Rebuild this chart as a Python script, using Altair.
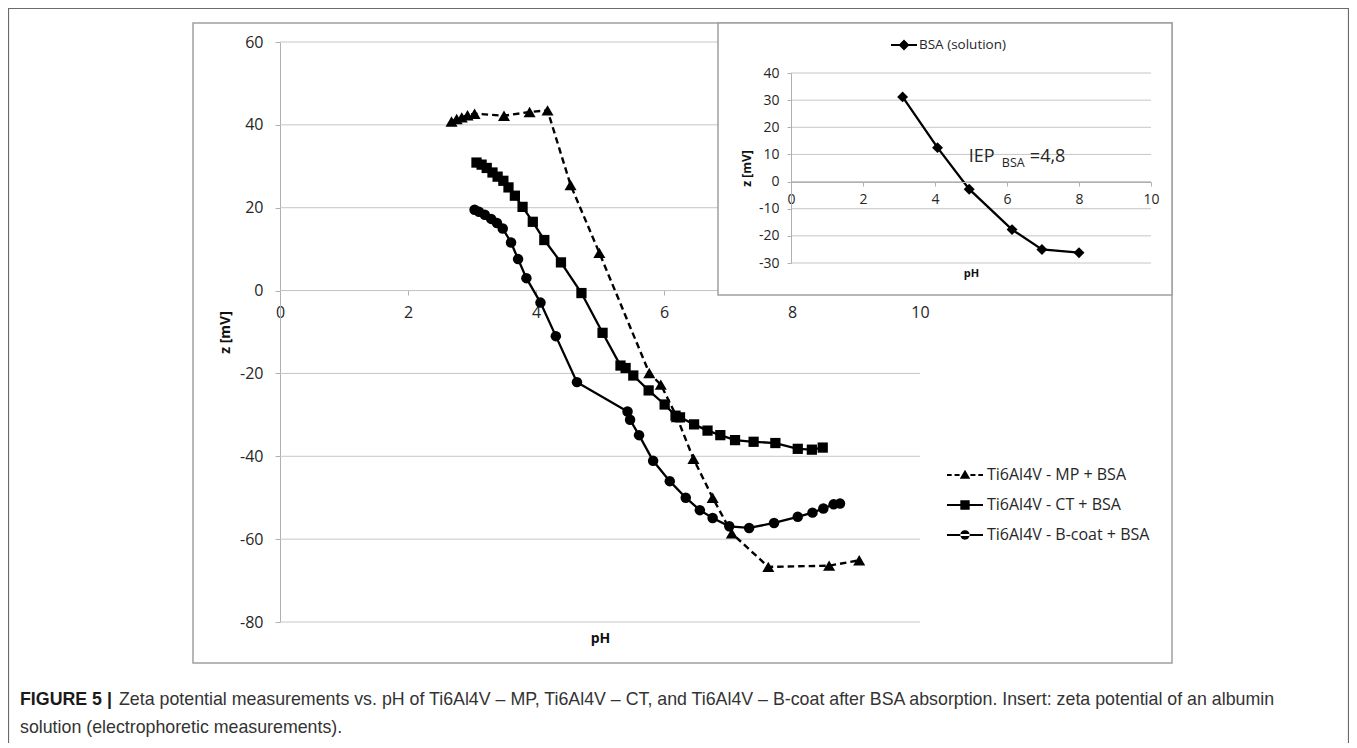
import altair as alt
import pandas as pd

# ---------------- data ----------------
SERIES = ["Ti6Al4V - MP + BSA", "Ti6Al4V - CT + BSA", "Ti6Al4V - B-coat + BSA"]

mp_ph = [2.68, 2.76, 2.84, 2.93, 3.04, 3.50, 3.90, 4.18, 4.54, 4.99,
         5.77, 5.95, 6.20, 6.46, 6.76, 7.06, 7.63, 8.58, 9.05]
mp_z = [40.8, 41.4, 41.8, 42.3, 42.7, 42.2, 43.1, 43.5, 25.5, 9.1,
        -19.9, -22.7, -30.5, -40.6, -50.0, -58.6, -66.7, -66.4, -65.1]

ct_ph = [3.07, 3.15, 3.23, 3.32, 3.40, 3.49, 3.57, 3.67, 3.79, 3.95,
         4.13, 4.39, 4.71, 5.04, 5.32, 5.40, 5.52, 5.76, 6.01, 6.18,
         6.25, 6.47, 6.68, 6.88, 7.11, 7.40, 7.74, 8.09, 8.31, 8.48]
ct_z = [30.9, 30.4, 29.6, 28.5, 27.5, 26.5, 24.9, 22.9, 20.2, 16.6,
        12.2, 6.8, -0.6, -10.2, -18.1, -18.7, -20.5, -24.1, -27.5, -30.2,
        -30.6, -32.3, -33.8, -34.9, -36.1, -36.5, -36.8, -38.2, -38.4, -37.9]

bc_ph = [3.04, 3.11, 3.20, 3.30, 3.39, 3.48, 3.61, 3.72, 3.85, 4.07,
         4.31, 4.64, 5.43, 5.47, 5.61, 5.83, 6.09, 6.34, 6.56, 6.76,
         7.02, 7.33, 7.72, 8.09, 8.32, 8.49, 8.65, 8.75]
bc_z = [19.5, 19.0, 18.3, 17.3, 16.3, 15.0, 11.6, 7.6, 3.0, -2.9,
        -11.0, -22.1, -29.2, -31.2, -34.9, -41.1, -46.0, -50.0, -53.0, -54.9,
        -56.9, -57.3, -56.1, -54.6, -53.6, -52.6, -51.6, -51.4]

INSET_SERIES = ["BSA (solution)"]
bsa_ph = [3.10, 4.07, 4.95, 6.14, 6.97, 8.00]
bsa_z = [31.2, 12.5, -2.8, -17.7, -25.0, -26.2]

main_x_ticks = [0, 2, 4, 6, 8, 10]
main_y_ticks = [-80, -60, -40, -20, 0, 20, 40, 60]
inset_x_ticks = [0, 2, 4, 6, 8, 10]
inset_y_ticks = [-30, -20, -10, 0, 10, 20, 30, 40]

iep_anchor_ph = [4.94]
iep_anchor_z = [9.2]

caption_bold = "FIGURE 5 |"
caption_line1 = ("Zeta potential measurements vs. pH of Ti6Al4V \u2013 MP, Ti6Al4V \u2013 CT, "
                 "and Ti6Al4V \u2013 B-coat after BSA absorption. Insert: zeta potential of an albumin")
caption_line2 = "solution (electrophoretic measurements)."

# ---------------- layout / style ----------------
W, H = 1341, 735
FONT = "Open Sans"
CAP_FONT = "Liberation Sans"
GRID = "#c6c6c6"
AXC = "#b0b0b0"
FRAME = "#a0a0a0"
TXT = "#262626"
LBL = "'' + datum.value"

MX = alt.Scale(domain=[0, 10], range=[272, 912], nice=False, zero=False)
MY = alt.Scale(domain=[-80, 60], range=[614, 34], nice=False, zero=False)
IX = alt.Scale(domain=[0, 10], range=[783, 1143], nice=False, zero=False)
IY = alt.Scale(domain=[-30, 40], range=[255, 65], nice=False, zero=False)

mx_axis = alt.Axis(orient="bottom", offset=282 - H, values=main_x_ticks, grid=False,
                   tickSize=5, tickColor=AXC, domainColor=AXC, domainWidth=1,
                   labelFont=FONT, labelFontSize=16, labelColor=TXT, labelPadding=9,
                   labelFlush=False, labelOverlap=False, labelExpr=LBL,
                   title="pH", titleFont=FONT, titleFontSize=14, titleFontWeight="bold",
                   titleColor="#111111", titleY=348, titleBaseline="middle")
my_axis = alt.Axis(orient="left", offset=-272, values=main_y_ticks, grid=False,
                   tickSize=5, tickColor=AXC, domainColor=AXC, domainWidth=1,
                   labelFont=FONT, labelFontSize=16, labelColor=TXT, labelPadding=12,
                   labelFlush=False, labelOverlap=False, labelExpr=LBL,
                   title="z [mV]", titleFont=FONT, titleFontSize=14, titleFontWeight="bold",
                   titleColor="#111111", titleX=-55, titleBaseline="middle")
ix_axis = alt.Axis(orient="bottom", offset=174 - H, values=inset_x_ticks, grid=False,
                   tickSize=4, tickColor=AXC, domainColor=AXC, domainWidth=1,
                   labelFont=FONT, labelFontSize=14, labelColor=TXT, labelPadding=6,
                   labelFlush=False, labelOverlap=False, labelExpr=LBL, zindex=1,
                   title="pH", titleFont=FONT, titleFontSize=11, titleFontWeight="bold",
                   titleColor="#111111", titleY=91, titleBaseline="middle")
iy_axis = alt.Axis(orient="left", offset=-783, values=inset_y_ticks, grid=False,
                   tickSize=4, tickColor=AXC, domainColor=AXC, domainWidth=1,
                   labelFont=FONT, labelFontSize=14, labelColor=TXT, labelPadding=8,
                   labelFlush=False, labelOverlap=False, labelExpr=LBL, zindex=1,
                   title="z [mV]", titleFont=FONT, titleFontSize=12, titleFontWeight="bold",
                   titleColor="#111111", titleX=-45, titleBaseline="middle")

# legend symbols: line + marker as filled unit-square paths
LEG_PATHS = [
    "M-1,-0.06H-0.74V0.06H-1ZM-0.58,-0.06H-0.3V0.06H-0.58ZM0.3,-0.06H0.58V0.06H0.3Z"
    "M0.74,-0.06H1V0.06H0.74ZM-0.29,0.21L0,-0.29L0.29,0.21Z",
    "M-1,-0.06H1V0.06H-1ZM-0.26,-0.26H0.26V0.26H-0.26Z",
    "M-1,-0.06H1V0.06H-1ZM-0.26,0A0.26,0.26,0,1,0,0.26,0A0.26,0.26,0,1,0,-0.26,0Z",
]
INSET_LEG_PATHS = ["M-1,-0.08H1V0.08H-1ZM0,-0.42L0.42,0L0,0.42L-0.42,0Z"]

df = pd.DataFrame({
    "series": [SERIES[0]] * len(mp_ph) + [SERIES[1]] * len(ct_ph) + [SERIES[2]] * len(bc_ph),
    "ph": mp_ph + ct_ph + bc_ph,
    "z": mp_z + ct_z + bc_z,
})
inset_df = pd.DataFrame({"series": INSET_SERIES * len(bsa_ph), "ph": bsa_ph, "z": bsa_z})
one = pd.DataFrame({"a": [0]})

xm = alt.X("ph:Q", scale=MX, axis=mx_axis)
ym = alt.Y("z:Q", scale=MY, axis=my_axis)
xi = alt.X("ph:Q", scale=IX, axis=ix_axis)
yi = alt.Y("z:Q", scale=IY, axis=iy_axis)

# ---------------- main chart ----------------
page_frame = alt.Chart(one).mark_rect(fill="white", fillOpacity=0, stroke="#6a6a6a", strokeWidth=1.2).encode(
    x=alt.value(0.5), x2=alt.value(W - 0.5), y=alt.value(0.5), y2=alt.value(H + 40))
chart_frame = alt.Chart(one).mark_rect(fill="white", fillOpacity=0, stroke=FRAME, strokeWidth=1.5).encode(
    x=alt.value(185), x2=alt.value(1164), y=alt.value(15), y2=alt.value(655))

main_grid = alt.Chart(pd.DataFrame({"z": main_y_ticks})).mark_rule(color=GRID, strokeWidth=1).encode(
    x=alt.X(datum=0, scale=MX, axis=mx_axis), x2=alt.X2(datum=10), y=ym)

base = alt.Chart(df)
line_mp = base.transform_filter(alt.datum.series == SERIES[0]).mark_line(
    color="black", strokeWidth=2.4, strokeDash=[6.5, 4]).encode(x=xm, y=ym)
line_solid = base.transform_filter(alt.datum.series != SERIES[0]).mark_line(
    color="black", strokeWidth=2.3).encode(x=xm, y=ym, detail="series:N")

point_layers = []
for s, shp, sz in zip(SERIES, ["triangle-up", "square", "circle"], [145, 105, 110]):
    point_layers.append(
        base.transform_filter(alt.datum.series == s).mark_point(
            shape=shp, size=sz, filled=True, color="black", opacity=1).encode(x=xm, y=ym))

main_legend = base.mark_point(filled=True, color="black", opacity=0, size=1).encode(
    x=xm, y=ym,
    shape=alt.Shape("series:N", scale=alt.Scale(domain=SERIES, range=LEG_PATHS),
                    legend=alt.Legend(title=None, orient="none", legendX=939, legendY=452,
                                      symbolSize=1296, symbolStrokeWidth=0, symbolOpacity=1,
                                      symbolFillColor="black",
                                      labelFont=FONT, labelFontSize=16, labelColor=TXT,
                                      labelOffset=4, rowPadding=0, clipHeight=30,
                                      padding=0, labelLimit=400)))

cap_bold = alt.Chart(pd.DataFrame({"t": [caption_bold]})).mark_text(
    align="left", baseline="middle", font=CAP_FONT, fontSize=17.8, fontWeight="bold", color="#1a1a1a"
).encode(x=alt.value(12), y=alt.value(692), text="t:N")
cap_l1 = alt.Chart(pd.DataFrame({"t": [caption_line1]})).mark_text(
    align="left", baseline="middle", font=CAP_FONT, fontSize=17.8, color="#333333"
).encode(x=alt.value(111), y=alt.value(692), text="t:N")
cap_l2 = alt.Chart(pd.DataFrame({"t": [caption_line2]})).mark_text(
    align="left", baseline="middle", font=CAP_FONT, fontSize=17.8, color="#333333"
).encode(x=alt.value(12), y=alt.value(720), text="t:N")

main_layer = alt.layer(page_frame, chart_frame, main_grid, line_mp, line_solid,
                       *point_layers, main_legend, cap_bold, cap_l1, cap_l2)

# ---------------- inset ----------------
inset_box = alt.Chart(one).mark_rect(fill="white", stroke=FRAME, strokeWidth=1.5).encode(
    x=alt.value(710), x2=alt.value(1164), y=alt.value(15), y2=alt.value(287))
inset_grid = alt.Chart(pd.DataFrame({"z": inset_y_ticks})).mark_rule(color=GRID, strokeWidth=1).encode(
    x=alt.X(datum=0, scale=IX, axis=ix_axis), x2=alt.X2(datum=10), y=yi)
ibase = alt.Chart(inset_df)
inset_line = ibase.mark_line(color="black", strokeWidth=2.3).encode(x=xi, y=yi)
inset_pts = ibase.mark_point(shape="diamond", size=120, filled=True, color="black", opacity=1).encode(x=xi, y=yi)
inset_legend = ibase.mark_point(filled=True, color="black", opacity=0, size=1).encode(
    x=xi, y=yi,
    shape=alt.Shape("series:N", scale=alt.Scale(domain=INSET_SERIES, range=INSET_LEG_PATHS),
                    legend=alt.Legend(title=None, orient="none", legendX=883, legendY=27,
                                      symbolSize=676, symbolStrokeWidth=0, symbolOpacity=1,
                                      symbolFillColor="black",
                                      labelFont=FONT, labelFontSize=13.5, labelColor=TXT,
                                      labelOffset=2, rowPadding=0, clipHeight=20,
                                      padding=0, labelLimit=300)))

iep_df = pd.DataFrame({"ph": iep_anchor_ph, "z": iep_anchor_z, "a": ["IEP"], "b": ["BSA"], "c": ["=4,8"]})
iep_base = alt.Chart(iep_df)
iep_a = iep_base.mark_text(align="left", baseline="middle", font=FONT, fontSize=18, color=TXT).encode(
    x=xi, y=yi, text="a:N")
iep_b = iep_base.mark_text(align="left", baseline="middle", font=FONT, fontSize=12.5, color=TXT,
                           dx=33, dy=6).encode(x=xi, y=yi, text="b:N")
iep_c = iep_base.mark_text(align="left", baseline="middle", font=FONT, fontSize=18, color=TXT,
                           dx=61).encode(x=xi, y=yi, text="c:N")

inset_layer = alt.layer(inset_box, inset_grid, inset_line, inset_pts, inset_legend, iep_a, iep_b, iep_c)

chart = alt.layer(main_layer, inset_layer).resolve_scale(
    x="independent", y="independent", shape="independent"
).resolve_legend(shape="independent").properties(
    width=W, height=H, autosize=alt.AutoSizeParams(type="none"), padding=0
).configure_view(stroke=None)

chart.save("out.html", embed_options={"renderer": "svg", "actions": False})
